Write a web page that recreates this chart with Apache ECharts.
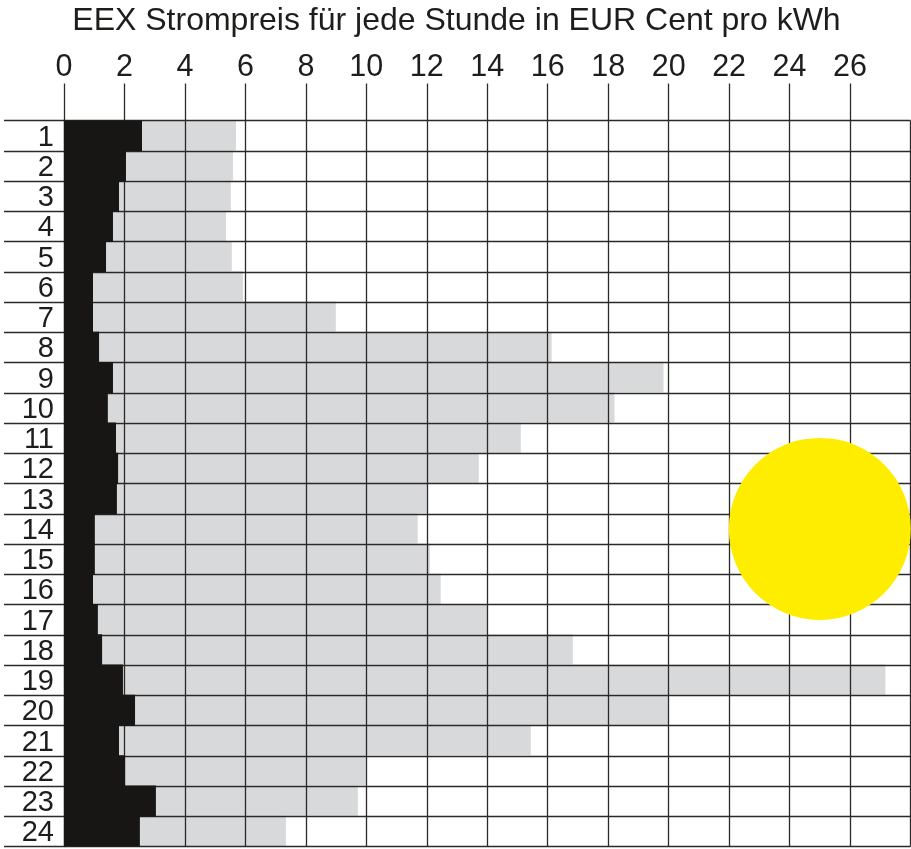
<!DOCTYPE html>
<html><head><meta charset="utf-8">
<style>html,body{margin:0;padding:0;background:#fff}#c{width:911px;height:849px}</style>
<script src="https://cdn.jsdelivr.net/npm/echarts@6/dist/echarts.min.js"></script>
</head><body><div id="c"></div>
<script>
const hours = ['1','2','3','4','5','6','7','8','9','10','11','12','13','14','15','16','17','18','19','20','21','22','23','24'];
const grossPrice = [5.69,5.59,5.52,5.36,5.55,5.92,8.99,16.13,19.83,18.21,15.11,13.72,12.0,11.7,12.1,12.46,14.02,16.83,27.17,20.0,15.44,9.98,9.72,7.34];
const exchangePrice = [2.58,2.05,1.82,1.62,1.39,0.96,0.96,1.16,1.62,1.45,1.72,1.79,1.75,1.02,1.02,0.96,1.12,1.26,1.95,2.35,1.82,2.02,3.04,2.51];
const sun = [[25,'14']];
const titleText = 'EEX Strompreis für jede Stunde in EUR Cent pro kWh';
const font = '"Liberation Sans", Arial, sans-serif';
const lineCol = '#2b2a29';
const chart = echarts.init(document.getElementById('c'), null, {renderer:'canvas'});
chart.setOption({
  animation:false,
  backgroundColor:'#fff',
  title:{text:titleText,left:451.5,textAlign:'center',top:0,textStyle:{fontFamily:font,fontSize:32,fontWeight:'normal',color:'#1d1d1b'}},
  grid:{left:64,top:120.5,width:846.5,height:726,containLabel:false},
  xAxis:{type:'value',position:'top',min:0,max:28,interval:2,z:1,
    axisLine:{show:false},
    axisTick:{show:true,length:37,lineStyle:{color:lineCol,width:1.3}},
    axisLabel:{show:true,margin:37,showMaxLabel:false,fontFamily:font,fontSize:30.5,color:'#1d1d1b'},
    splitLine:{show:true,lineStyle:{color:lineCol,width:1.3}}},
  yAxis:{type:'category',data:hours,inverse:true,z:1,
    axisLine:{show:true,lineStyle:{color:lineCol,width:1.3}},
    axisTick:{show:true,length:60,alignWithLabel:false,interval:0,lineStyle:{color:lineCol,width:1.3}},
    axisLabel:{interval:0,margin:10,formatter:'{h|{value}}',rich:{h:{padding:[4,0,0,0],fontFamily:font,fontSize:29,color:'#1d1d1b'}}},
    splitLine:{show:true,interval:0,lineStyle:{color:lineCol,width:1.3}}},
  series:[
    {type:'bar',name:'gross',data:grossPrice,barWidth:'100%',barGap:'-100%',z:0,itemStyle:{color:'#d8d9db'},silent:true},
    {type:'bar',name:'exchange',data:exchangePrice,barWidth:'103%',barGap:'-100%',z:2,itemStyle:{color:'#171614'},silent:true},
    {type:'scatter',data:sun,symbol:'circle',symbolSize:182,z:3,clip:false,itemStyle:{color:'#ffed00',opacity:1},silent:true}
  ]
});
</script></body></html>
